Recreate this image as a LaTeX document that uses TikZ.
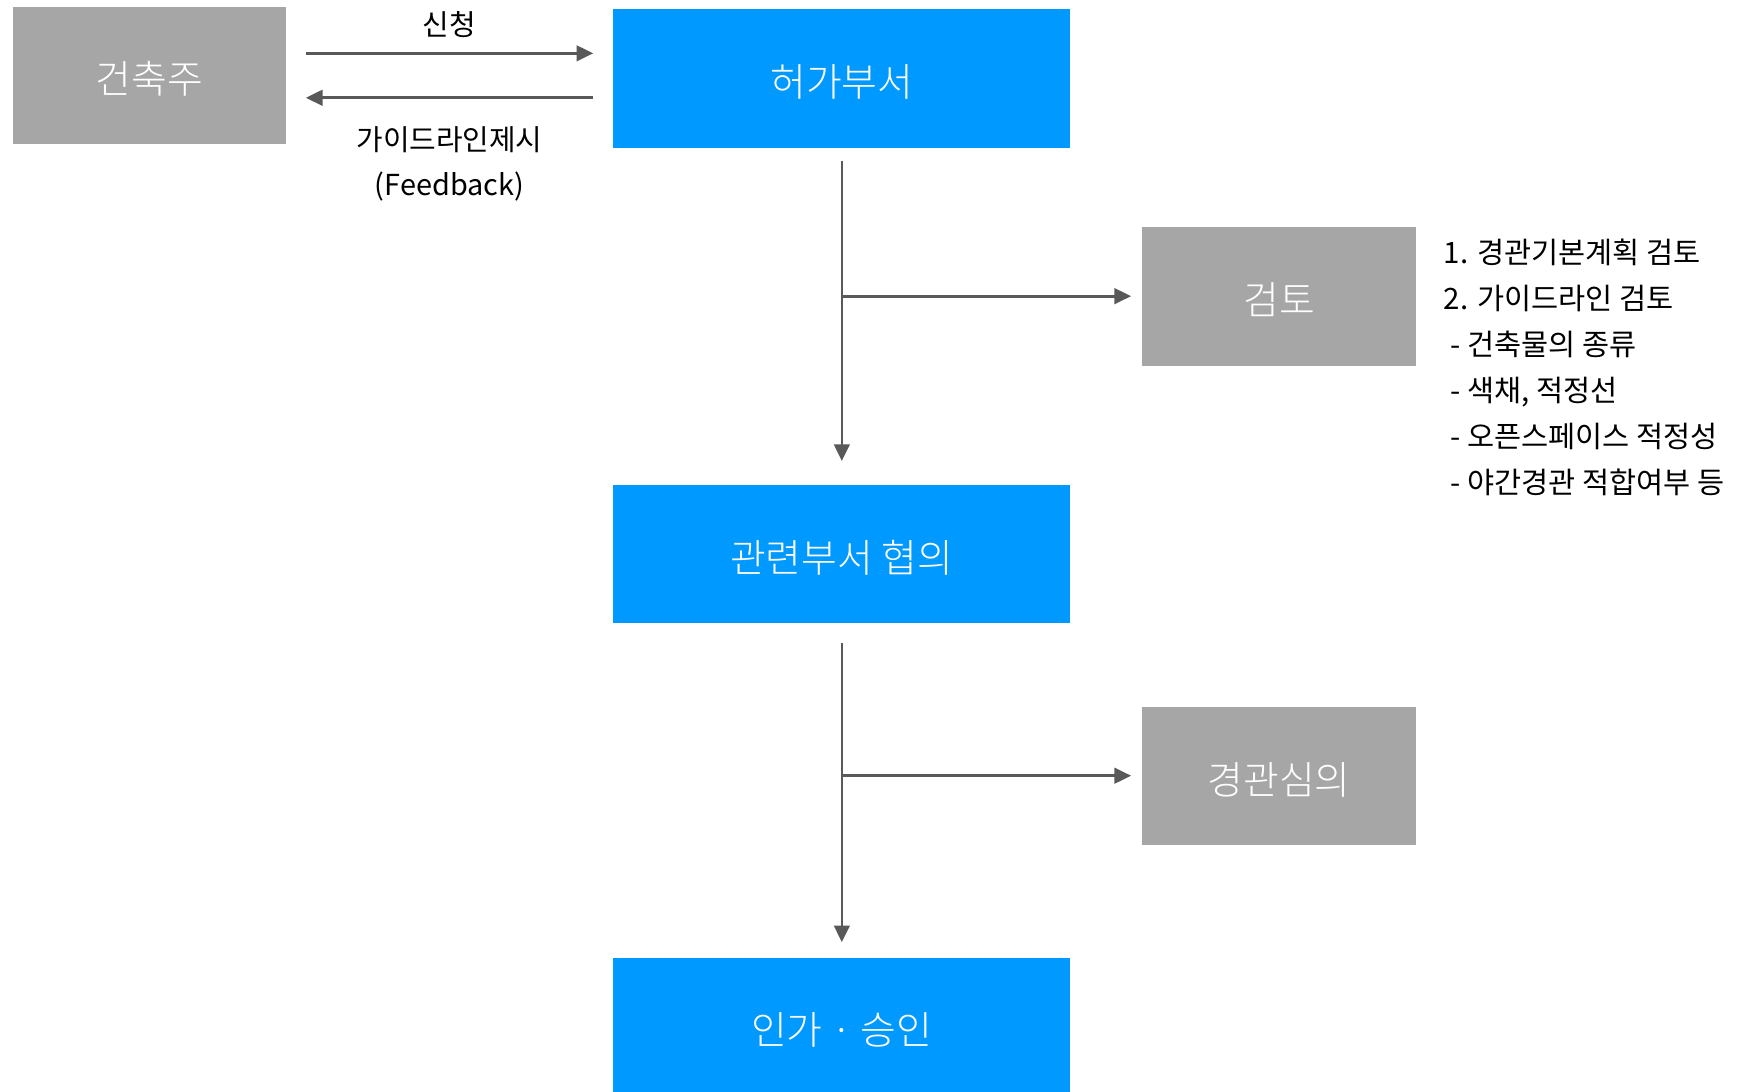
\documentclass[tikz,border=0pt]{standalone}
\usepackage{fontspec}
\setmainfont{Noto Sans CJK KR}
\newfontfamily\lightfont{Noto Sans CJK KR Light}
\usetikzlibrary{arrows.meta}
\definecolor{boxgray}{HTML}{A6A6A6}
\definecolor{boxblue}{HTML}{0099FF}
\definecolor{linegray}{HTML}{595959}
\newcommand{\boxtext}[1]{\raisebox{-16.5pt}[0pt][0pt]{#1}}
\tikzset{
  bluebox/.style={fill=boxblue, draw=none, text=white, inner sep=0pt, minimum width=411pt, minimum height=125pt, font=\lightfont\fontsize{35}{42}\selectfont},
  graybox/.style={fill=boxgray, draw=none, text=white, inner sep=0pt, minimum width=246pt, minimum height=125pt, font=\lightfont\fontsize{35}{42}\selectfont},
  conn/.style={draw=linegray, line width=2.4pt, -{Triangle[length=15pt,width=14pt]}},
  lbl/.style={text=black, inner sep=0pt, font=\fontsize{26}{32}\selectfont},
}
\begin{document}
\begin{tikzpicture}[x=1pt,y=-1pt]
\useasboundingbox (0,0) rectangle (1563,982);
\node[graybox, minimum width=245pt, minimum height=124pt] (owner) at (134.5,68) {\boxtext{건축주}};
\node[bluebox] (permit) at (757.5,70.5) {\boxtext{허가부서}};
\node[graybox] (review) at (1151,266.5) {\boxtext{검토}};
\node[bluebox] (consult) at (757.5,498.5) {\boxtext{관련부서 협의}};
\node[graybox, minimum height=124pt] (council) at (1151,698) {\boxtext{경관심의}};
\node[bluebox, minimum height=123pt] (approve) at (757.5,923.5) {\boxtext{인가 · 승인}};

\draw[conn, shorten <=18pt, shorten >=18pt] ([yshift=20pt]owner.east) -- ([yshift=22.5pt]permit.west)
  node[lbl, midway, above=13pt] (apply) {신청};
\draw[conn, shorten <=18pt, shorten >=18pt] ([yshift=-17.5pt]permit.west) -- ([yshift=-20pt]owner.east)
  node[lbl, midway, below=25pt, align=center] (guide) {가이드라인제시\\[8pt](Feedback)};

\draw[conn, shorten <=12pt, shorten >=21pt] (permit.south) -- (consult.north);
\draw[conn, shorten >=10pt] (permit.south |- review.west) -- (review.west);
\draw[conn, shorten <=17pt, shorten >=14pt] (consult.south) -- (approve.north);
\draw[conn, shorten >=10pt] (consult.south |- council.west) -- (council.west);

\node[lbl, anchor=north west, align=left, font=\fontsize{26.5}{41.3}\selectfont] (items) at (1299,215)
  {1. 경관기본계획 검토\\
   2. 가이드라인 검토\\
   \ - 건축물의 종류\\
   \ - 색채, 적정선\\
   \ - 오픈스페이스 적정성\\
   \ - 야간경관 적합여부 등};
\end{tikzpicture}
\end{document}
